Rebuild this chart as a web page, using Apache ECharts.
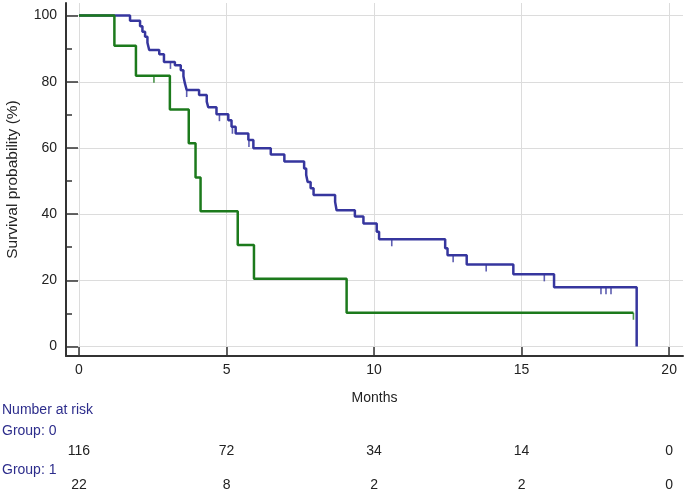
<!DOCTYPE html>
<html>
<head>
<meta charset="utf-8">
<script src="https://cdn.jsdelivr.net/npm/echarts@6/dist/echarts.min.js"></script>
<style>
  html, body { margin: 0; padding: 0; background: #fff; }
  #chart { width: 685px; height: 491px; }
</style>
</head>
<body>
<div id="chart"></div>
<script>
const monthTicks = [0, 5, 10, 15, 20];
const pctTicks = [0, 20, 40, 60, 80, 100];
const pctMinorTicks = [10, 30, 50, 70, 90];

// Group 0 (blue): [month, survival %] after each drop
const group0Steps = [
  [0, 100], [1.73, 98.4], [2.07, 96.8], [2.15, 95.1], [2.24, 93.6], [2.32, 91.8],
  [2.38, 89.6], [2.72, 88.3], [2.88, 86.0], [3.25, 85.0], [3.45, 83.5], [3.54, 81.7],
  [3.59, 79.5], [3.65, 77.5], [4.07, 76.0], [4.33, 74.0], [4.38, 72.3], [4.66, 70.2],
  [5.06, 68.4], [5.17, 66.4], [5.31, 64.4], [5.74, 62.4], [5.91, 59.9], [6.5, 58.0],
  [6.96, 55.9], [7.63, 53.8], [7.7, 51.8], [7.75, 49.7], [7.85, 47.8], [7.95, 45.8],
  [8.68, 43.7], [8.73, 41.2], [9.35, 39.3], [9.64, 37.2], [10.09, 34.7], [10.17, 32.4],
  [12.41, 29.7], [12.49, 27.6], [13.14, 24.8], [14.72, 21.8], [16.1, 17.9], [18.9, 0]
];
const group0Censored = [
  [3.1, 86.0], [3.65, 77.5], [4.76, 70.2], [5.2, 66.4], [5.76, 62.4],
  [10.6, 32.4], [12.68, 27.6], [13.8, 24.8], [15.77, 21.8],
  [17.69, 17.9], [17.86, 17.9], [18.03, 17.9]
];

// Group 1 (green)
const group1Steps = [
  [0, 100], [1.2, 90.9], [1.93, 81.8], [3.08, 71.6], [3.72, 61.4], [3.95, 51.1],
  [4.12, 40.9], [5.38, 30.7], [5.93, 20.5], [9.07, 10.2], [18.79, 10.2]
];
const group1Censored = [[2.54, 81.8], [18.79, 10.2]];

// number at risk table
const riskTimes = [0, 5, 10, 15, 20];
const riskGroup0 = [116, 72, 34, 14, 0];
const riskGroup1 = [22, 8, 2, 2, 0];

const FONT = '"Liberation Sans", Arial, sans-serif';
const blue = '#36369e';
const green = '#1c7a1c';
const navyText = '#2d2d8c';
const axisColor = '#333333';

const chart = echarts.init(document.getElementById('chart'));

const censorSeries = function (data, color) {
  return {
    type: 'scatter',
    data: data,
    symbol: 'rect',
    symbolSize: [1.6, 7],
    symbolOffset: [0, 3.5],
    itemStyle: { color: color },
    silent: true,
    z: 3
  };
};

chart.setOption({
  animation: false,
  grid: { left: 66, right: 2, top: 3, bottom: 135, containLabel: false, outerBoundsMode: 'none' },
  xAxis: {
    type: 'value',
    min: -0.44,
    max: 20.47,
    name: 'Months',
    nameLocation: 'middle',
    nameGap: 35,
    nameTextStyle: { fontFamily: FONT, fontSize: 14, color: '#222' },
    axisLine: { show: true, onZero: false, lineStyle: { color: axisColor, width: 2 } },
    axisTick: { show: true, inside: true, length: 9, customValues: monthTicks, lineStyle: { color: axisColor, width: 1.5 } },
    axisLabel: { customValues: monthTicks, fontFamily: FONT, fontSize: 14, color: '#222', margin: 7 },
    splitLine: { show: true, lineStyle: { color: '#dcdcdc', width: 1 } }
  },
  yAxis: [
    {
      type: 'value',
      min: -2.87,
      max: 103.8,
      name: 'Survival probability (%)',
      nameLocation: 'middle',
      nameGap: 45,
      nameTextStyle: { fontFamily: FONT, fontSize: 15.5, color: '#222' },
      axisLine: { show: true, onZero: false, lineStyle: { color: axisColor, width: 2 } },
      axisTick: { show: true, inside: true, length: 12, customValues: pctTicks, lineStyle: { color: axisColor, width: 1.5 } },
      axisLabel: { customValues: pctTicks, fontFamily: FONT, fontSize: 14, color: '#222', margin: 9 },
      splitLine: { show: true, lineStyle: { color: '#dcdcdc', width: 1 } }
    },
    {
      type: 'value',
      min: -2.87,
      max: 103.8,
      position: 'left',
      axisLine: { show: false, onZero: false },
      axisTick: { show: true, inside: true, length: 6, customValues: pctMinorTicks, lineStyle: { color: axisColor, width: 1.5 } },
      axisLabel: { show: false },
      splitLine: { show: false }
    }
  ],
  series: [
    {
      name: 'Group: 0',
      type: 'line',
      step: 'end',
      data: group0Steps,
      showSymbol: false,
      lineStyle: { color: blue, width: 2.5 },
      z: 2
    },
    censorSeries(group0Censored, blue),
    {
      name: 'Group: 1',
      type: 'line',
      step: 'end',
      data: group1Steps,
      showSymbol: false,
      lineStyle: { color: green, width: 2.5 },
      z: 4
    },
    censorSeries(group1Censored, green)
  ]
});

// number at risk table, placed under the x axis ticks
const xs = riskTimes.map(function (t) { return chart.convertToPixel({ xAxisIndex: 0 }, t); });
const txt = function (text, x, y, color, align) {
  return {
    type: 'text',
    style: { text: text, x: x, y: y, fill: color, font: '14px ' + FONT, textAlign: align, textVerticalAlign: 'middle' }
  };
};
const elements = [
  txt('Number at risk', 2, 410, navyText, 'left'),
  txt('Group: 0', 2, 431, navyText, 'left'),
  txt('Group: 1', 2, 470, navyText, 'left')
];
riskGroup0.forEach(function (n, i) { elements.push(txt(String(n), xs[i], 451, '#222', 'center')); });
riskGroup1.forEach(function (n, i) { elements.push(txt(String(n), xs[i], 485, '#222', 'center')); });
chart.setOption({ graphic: elements });
</script>
</body>
</html>
